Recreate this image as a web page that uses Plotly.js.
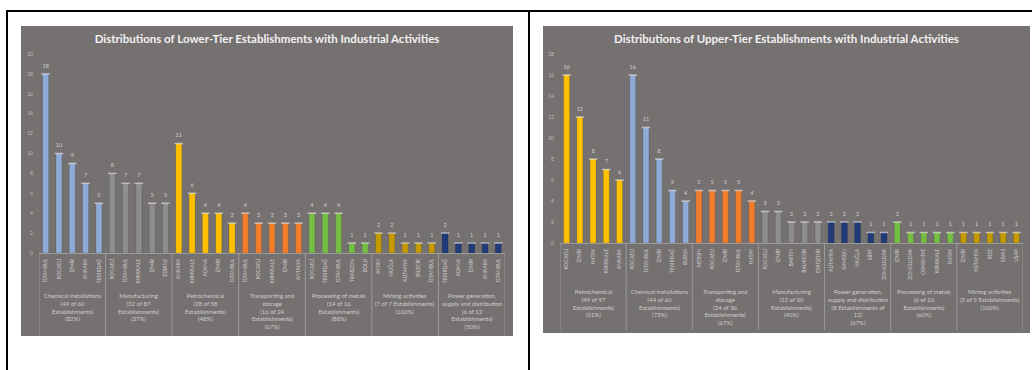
<!DOCTYPE html>
<html>
<head>
<meta charset="utf-8">
<script src="https://cdn.plot.ly/plotly-3.0.1.min.js"></script>
<style>
  html, body { margin: 0; padding: 0; background: #ffffff; width: 1032px; height: 370px; overflow: hidden; position: relative; }
  .rule { position: absolute; background: #000000; }
  .chart { position: absolute; }
</style>
</head>
<body>
<div class="rule" style="left:6px; top:10px; width:1026px; height:2px;"></div>
<div class="rule" style="left:6px; top:10px; width:2px; height:360px;"></div>
<div class="rule" style="left:528px; top:10px; width:2px; height:360px;"></div>
<div id="lower" class="chart" style="left:21px; top:26px; width:492px; height:310px;"></div>
<div id="upper" class="chart" style="left:543px; top:26px; width:487px; height:307px;"></div>
<script>
// Lower-tier establishments: 7 sectors, top 5 provinces each
const lowerSectors = [
  "Chemical installations<br>(49 of 60<br>Establishments)<br>(82%)",
  "Manufacturing<br>(32 of 87<br>Establishments)<br>(37%)",
  "Petrochemical<br>(28 of 58<br>Establishments)<br>(48%)",
  "Transporting and<br>storage<br>(16 of 24<br>Establishments)<br>(67%)",
  "Processing of metals<br>(14 of 16<br>Establishments)<br>(88%)",
  "Mining activities<br>(7 of 7 Establishments)<br>(100%)",
  "Power generation,<br>supply and distribution<br>(6 of 12<br>Establishments)<br>(50%)"
];
const lowerCities = [
  "İSTANBUL", "KOCAELİ", "İZMİR", "ANKARA", "TEKİRDAĞ",
  "KOCAELİ", "İSTANBUL", "KIRIKKALE", "İZMİR", "EDİRNE",
  "ANKARA", "KIRIKKALE", "ADANA", "İZMİR", "İSTANBUL",
  "İSTANBUL", "KOCAELİ", "KIRIKKALE", "İZMİR", "ANTALYA",
  "KOCAELİ", "TEKİRDAĞ", "İSTANBUL", "TRABZON", "BOLU",
  "AYDIN", "MUĞLA", "KÜTAHYA", "BİLECİK", "İSTANBUL",
  "TEKİRDAĞ", "ADANA", "İZMİR", "ANKARA", "İSTANBUL"
];
const lowerCounts = [
  18, 10, 9, 7, 5,
  8, 7, 7, 5, 5,
  11, 6, 4, 4, 3,
  4, 3, 3, 3, 3,
  4, 4, 4, 1, 1,
  2, 2, 1, 1, 1,
  2, 1, 1, 1, 1
];
const lowerYTicks = [0, 2, 4, 6, 8, 10, 12, 14, 16, 18, 20];

// Upper-tier establishments: 7 sectors, top 5 provinces each
const upperSectors = [
  "Petrochemical<br>(49 of 97<br>Establishments)<br>(51%)",
  "Chemical installations<br>(44 of 60<br>Establishments)<br>(73%)",
  "Transporting and<br>storage<br>(24 of 36<br>Establishments)<br>(67%)",
  "Manufacturing<br>(12 of 30<br>Establishments)<br>(40%)",
  "Power generation,<br>supply and distribution<br>(8 Establishments of<br>12)<br>(67%)",
  "Processing of metals<br>(6 of 10<br>Establishments)<br>(60%)",
  "Mining activities<br>(5 of 5 Establishments)<br>(100%)"
];
const upperCities = [
  "KOCAELİ", "İZMİR", "HATAY", "KIRIKKALE", "ANKARA",
  "KOCAELİ", "İSTANBUL", "İZMİR", "TEKİRDAĞ", "BURSA",
  "MERSİN", "KOCAELİ", "İZMİR", "İSTANBUL", "HATAY",
  "KOCAELİ", "İZMİR", "BARTIN", "BALIKESİR", "ESKİŞEHİR",
  "KÜTAHYA", "SAMSUN", "MUĞLA", "SİİRT", "ZONGULDAK",
  "İZMİR", "ZONGULDAK", "OSMANİYE", "KIRIKKALE", "HATAY",
  "İZMİR", "KÜTAHYA", "RİZE", "SİVAS", "UŞAK"
];
const upperCounts = [
  16, 12, 8, 7, 6,
  16, 11, 8, 5, 4,
  5, 5, 5, 5, 4,
  3, 3, 2, 2, 2,
  2, 2, 2, 1, 1,
  2, 1, 1, 1, 1,
  1, 1, 1, 1, 1
];
const upperYTicks = [0, 2, 4, 6, 8, 10, 12, 14, 16, 18];

// Sector palette
const sectorColor = {
  "Chemical": "#8eaad6",
  "Manufacturing": "#8e8e8e",
  "Petrochemical": "#ffc000",
  "Transporting": "#ef7d2d",
  "Processing": "#76bd45",
  "Mining": "#c49a00",
  "Power": "#203b78"
};
function colorFor(label) {
  const key = Object.keys(sectorColor).find(k => label.startsWith(k));
  return sectorColor[key];
}

const AXIS_GREY = "#a6a6a6";
const LABEL_GREY = "#cdcdcd";

function draw(divId, title, sectors, cities, counts, yTicks, yMax, margin, labelDrop, dividerDrop) {
  const el = document.getElementById(divId);
  const W = parseInt(el.style.width), H = parseInt(el.style.height);
  const plotH = H - margin.t - margin.b;
  const perGroup = cities.length / sectors.length;
  const pos = cities.map((_, i) => i);
  const colors = cities.map((_, i) => colorFor(sectors[Math.floor(i / perGroup)]));

  const bars = {
    type: "bar",
    x: pos,
    y: counts,
    marker: { color: colors, line: { color: "rgba(0,0,0,0.25)", width: 0.5 } },
    hoverinfo: "none"
  };
  // light cap on top of each column, with its value above
  const caps = {
    type: "scatter",
    mode: "markers+text",
    x: pos,
    y: counts,
    marker: { symbol: "line-ew", size: 6, line: { color: "rgba(255,255,255,0.55)", width: 1.5 } },
    text: counts.map(String),
    textposition: "top center",
    textfont: { family: "Lato", size: 5.5, color: "#d0d0d0" },
    cliponaxis: false,
    hoverinfo: "none"
  };

  // sector captions centred under each group of columns
  const annotations = sectors.map((s, g) => ({
    text: s,
    xref: "x", yref: "paper",
    x: g * perGroup + (perGroup - 1) / 2,
    y: 0, yanchor: "top", yshift: -labelDrop,
    showarrow: false,
    align: "center",
    font: { family: "Lato", size: 6, color: LABEL_GREY }
  }));

  // group dividers below the category axis
  const shapes = [];
  for (let g = 0; g <= sectors.length; g++) {
    shapes.push({
      type: "line", xref: "x", yref: "paper",
      x0: g * perGroup - 0.5, x1: g * perGroup - 0.5,
      y0: 0, y1: -dividerDrop / plotH,
      line: { color: AXIS_GREY, width: 0.8 }
    });
  }

  const layout = {
    width: W,
    height: H,
    paper_bgcolor: "#767171",
    plot_bgcolor: "#767171",
    showlegend: false,
    bargap: 0.55,
    margin: margin,
    title: {
      text: "<b>" + title + "</b>",
      font: { family: "Lato", size: 11.5, color: "#f2f2f2" },
      x: 0.5, xanchor: "center",
      y: 1 - 13 / H, yanchor: "middle",
      yref: "container"
    },
    xaxis: {
      range: [-0.5, cities.length - 0.5],
      tickvals: pos,
      ticktext: cities,
      showline: true,
      linecolor: AXIS_GREY,
      linewidth: 0.8,
      ticks: "",
      tickangle: -90,
      ticklabelstandoff: 3,
      tickfont: { family: "Lato", size: 5, color: LABEL_GREY },
      showgrid: false,
      zeroline: false
    },
    yaxis: {
      range: [0, yMax],
      tickvals: yTicks,
      ticktext: yTicks.map(String),
      tickfont: { family: "Lato", size: 5, color: "#bdbdbd" },
      showgrid: false,
      zeroline: false,
      showline: false,
      ticks: "",
      ticklabelstandoff: 5
    },
    annotations: annotations,
    shapes: shapes
  };
  Plotly.newPlot(divId, [bars, caps], layout, { staticPlot: true, displayModeBar: false });
}

draw("lower", "Distributions of Lower-Tier Establishments with Industrial Activities",
  lowerSectors, lowerCities, lowerCounts, lowerYTicks, 20, { l: 18, r: 8, t: 28, b: 83 }, 37, 83);
draw("upper", "Distributions of Upper-Tier Establishments with Industrial Activities",
  upperSectors, upperCities, upperCounts, upperYTicks, 18, { l: 17, r: 7, t: 28, b: 90 }, 43, 87);
</script>
</body>
</html>
